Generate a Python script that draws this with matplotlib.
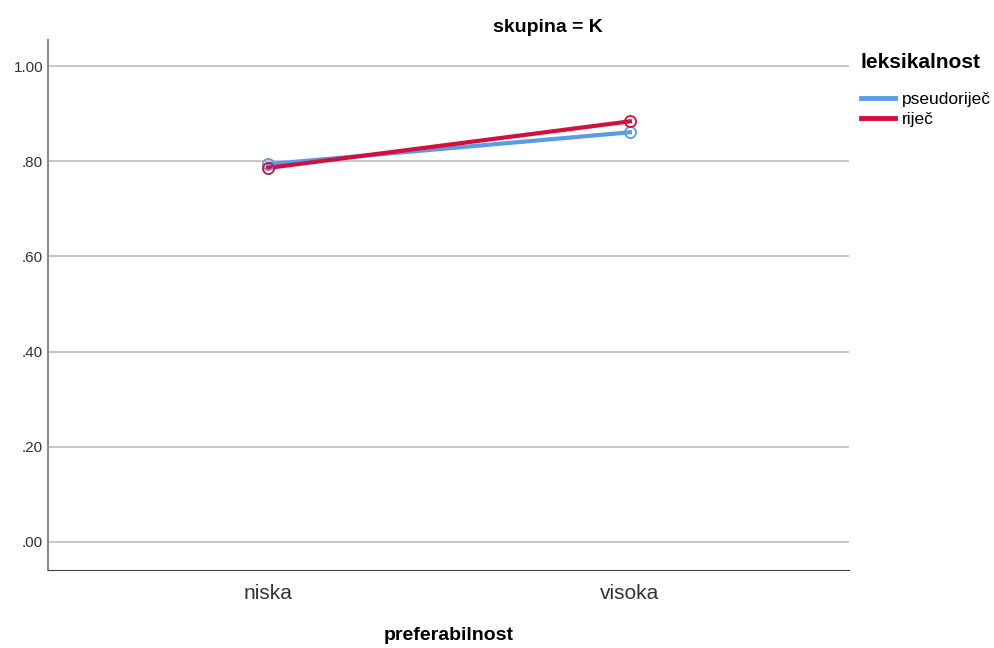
import matplotlib.pyplot as plt
from matplotlib.lines import Line2D

plt.rcParams['font.family'] = ['Liberation Sans', 'DejaVu Sans']

categories = ['niska', 'visoka']
series_names = ['pseudoriječ', 'riječ']
pseudorijec = [0.794, 0.861]
rijec = [0.786, 0.884]
yticks = [0.0, 0.2, 0.4, 0.6, 0.8, 1.0]
ytick_labels = ['.00', '.20', '.40', '.60', '.80', '1.00']

colors = ['#5b9be6', '#d40f3c']

fig = plt.figure(figsize=(9.94, 6.48), dpi=100)
ax = fig.add_axes([48/994, 78/648, (849-48)/994, (570-40)/648])

x = list(range(len(categories)))
for vals, c in zip([pseudorijec, rijec], colors):
    ax.plot(x, vals, color=c, lw=3, zorder=3)
    ax.plot(x, vals, ls='none', marker='o', ms=8, mfc='none', mec=c, mew=1.3, zorder=4)

ax.set_xlim(-0.607, 1.605)
ax.set_ylim(-0.059, 1.055)
ax.set_yticks(yticks)
ax.set_yticklabels(ytick_labels, fontsize=11, color='#333333')
ax.set_xticks(x)
ax.set_xticklabels(categories, fontsize=15, color='#333333')
ax.yaxis.grid(True, color='#bdbdbd', lw=1.2)
ax.set_axisbelow(True)
ax.tick_params(length=0)
ax.tick_params(axis='x', pad=10)
for s in ['top', 'right']:
    ax.spines[s].set_visible(False)
ax.spines['left'].set_color('#8c8c8c')
ax.spines['left'].set_linewidth(1.5)
ax.spines['bottom'].set_color('#444444')

fig.text(548/994, 1 - 27/648, 'skupina = K', ha='center', va='center',
         fontsize=14, fontweight='bold')
fig.text(449/994, 1 - 636/648, 'preferabilnost', ha='center', va='center',
         fontsize=14, fontweight='bold')

fig.text(860/994, 1 - 62/648, 'leksikalnost', ha='left', va='center',
         fontsize=15, fontweight='bold')
handles = [Line2D([], [], color=c, lw=3.5) for c in colors]
leg = fig.legend(handles, series_names, loc='upper left',
                 bbox_to_anchor=(845/994, 1 - 76/648), frameon=False,
                 fontsize=12.5, handlelength=2.0,
                 handletextpad=0.35, labelspacing=0.3)

fig.savefig('out.png', dpi=100)
